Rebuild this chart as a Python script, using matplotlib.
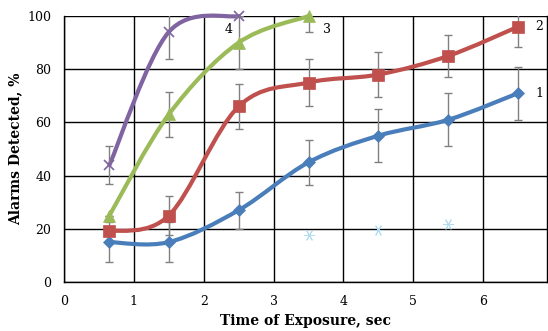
import matplotlib.pyplot as plt
from matplotlib.path import Path
from matplotlib.patches import PathPatch

plt.rcParams['font.family'] = 'DejaVu Serif'

# exposure times (sec)
x1 = [0.65, 1.5, 2.5, 3.5, 4.5, 5.5, 6.5]
x3 = [0.65, 1.5, 2.5, 3.5]
x4 = [0.65, 1.5, 2.5]
x5 = [3.5, 4.5, 5.5]

# alarms detected (%) and error bars
y1 = [15, 15, 27, 45, 55, 61, 71]
e1 = [7.5, 7.5, 7, 8.5, 10, 10, 10]
y2 = [19, 25, 66, 75, 78, 85, 96]
e2 = [0, 7.5, 8.5, 9, 8.5, 8, 7.5]
y3 = [25, 63, 90, 100]
e3 = [0, 8.5, 10, 6]
y4 = [44, 94, 100]
e4 = [7, 10, 0]
y5 = [17.7, 19.5, 21.7]

labels = ['1', '2', '3', '4']
colors = ['#4a7ebb', '#c0504d', '#9bbb59', '#8064a2']
markers = ['D', 's', '^', 'x']
msizes = [6, 8, 8, 7]


def smooth_path(xs, ys):
    # Excel-style smoothed line: cubic Bezier segments through the points
    pts = list(zip(xs, ys))
    verts = [pts[0]]
    codes = [Path.MOVETO]
    n = len(pts)
    for i in range(n - 1):
        p0 = pts[max(i - 1, 0)]
        p1 = pts[i]
        p2 = pts[i + 1]
        p3 = pts[min(i + 2, n - 1)]
        c1 = (p1[0] + (p2[0] - p0[0]) / 6, p1[1] + (p2[1] - p0[1]) / 6)
        c2 = (p2[0] - (p3[0] - p1[0]) / 6, p2[1] - (p3[1] - p1[1]) / 6)
        verts += [c1, c2, p2]
        codes += [Path.CURVE4] * 3
    return Path(verts, codes)


fig = plt.figure(figsize=(5.48, 3.31), dpi=100)
ax = fig.add_axes([0.1168, 0.148, 0.881, 0.8036])

series = [(x1, y1, e1), (x1, y2, e2), (x3, y3, e3), (x4, y4, e4)]
for (xs, ys, es), c, m, ms in zip(series, colors, markers, msizes):
    ax.add_patch(PathPatch(smooth_path(xs, ys), facecolor='none',
                           edgecolor=c, lw=3, zorder=3, clip_on=False,
                           capstyle='round'))
    ax.errorbar(xs, ys, yerr=es, fmt='none', ecolor='#808080',
                elinewidth=1, capsize=3, capthick=1, zorder=4)
    ax.plot(xs, ys, linestyle='none', marker=m, color=c, markersize=ms,
            markeredgewidth=1.2 if m == 'x' else 0.5, zorder=5, clip_on=False)

ax.plot(x5, y5, linestyle='none', marker=(6, 2, 90), color='#b3dcf0',
        markersize=8, markeredgewidth=0.7, zorder=2)

# curve labels
ax.text(6.75, 71, labels[0], fontsize=9, va='center', ha='left')
ax.text(6.75, 96, labels[1], fontsize=9, va='center', ha='left')
ax.text(3.7, 95, labels[2], fontsize=9, va='center', ha='left')
ax.text(2.3, 95, labels[3], fontsize=9, va='center', ha='left')

ax.set_xlim(0, 6.91)
ax.set_ylim(0, 100)
ax.set_xticks(range(0, 7))
ax.set_yticks(range(0, 101, 20))
ax.grid(True, color='black', linewidth=1)
ax.set_axisbelow(True)
ax.spines['top'].set_visible(False)
for s in ['left', 'bottom', 'right']:
    ax.spines[s].set_linewidth(1)
ax.tick_params(length=0, labelsize=9, pad=9)

ax.set_xlabel('Time of Exposure, sec', fontsize=10, fontweight='bold', labelpad=5)
ax.set_ylabel('Alarms Detected, %', fontsize=10, fontweight='bold', labelpad=4)

fig.savefig('out.png', dpi=100)
